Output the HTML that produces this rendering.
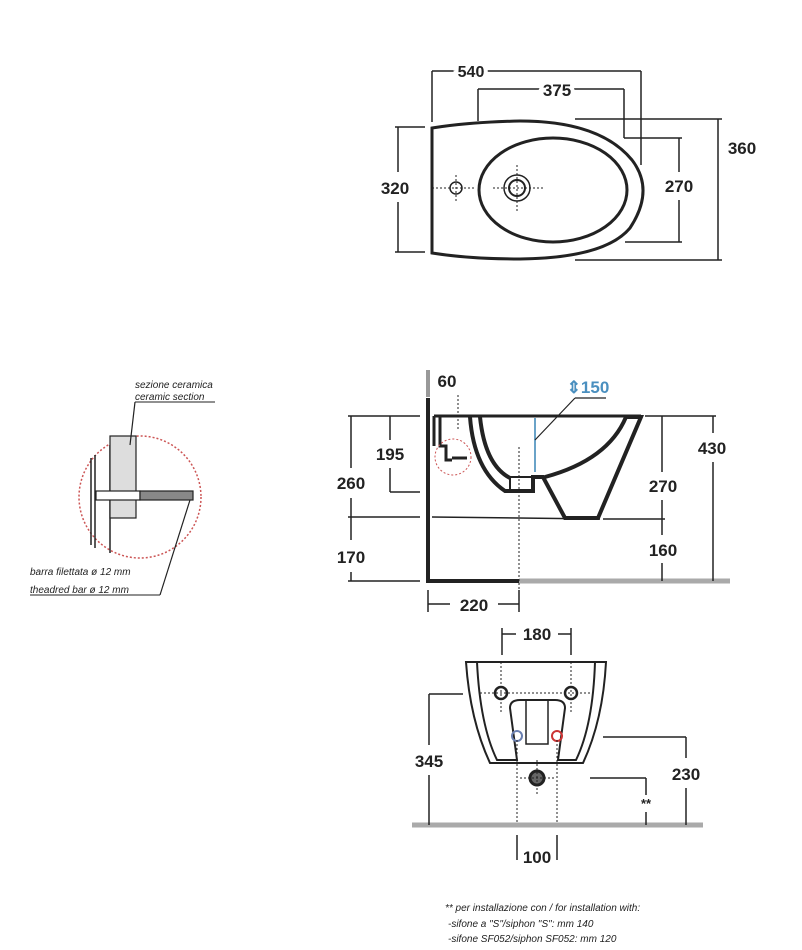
<!DOCTYPE html>
<html><head><meta charset="utf-8"><style>
html,body{margin:0;padding:0;background:#fff;}
svg{display:block;}
text{font-family:"Liberation Sans",sans-serif;}
.d{font-size:17px;font-weight:bold;fill:#222;}
.n{font-size:10px;font-style:italic;fill:#222;}
</style></head><body>
<svg width="802" height="950" viewBox="0 0 802 950" xmlns="http://www.w3.org/2000/svg">
<g fill="none" stroke="#222">
<!-- TOP VIEW -->
<path d="M432,128 Q470,122 520,121 Q600,121 632,160 Q655,190 630,228 Q605,258 520,259 Q470,259 432,253 Z" stroke-width="3"/>
<ellipse cx="553" cy="190" rx="74" ry="52" stroke-width="3"/>
<circle cx="517" cy="188" r="13" stroke-width="1.5"/>
<circle cx="517" cy="188" r="8" stroke-width="2"/>
<circle cx="456" cy="188" r="6" stroke-width="1.5"/>
<g stroke-dasharray="2,2" stroke-width="1">
<line x1="432" y1="188" x2="475" y2="188"/><line x1="493" y1="188" x2="545" y2="188"/>
<line x1="517" y1="165" x2="517" y2="212"/><line x1="456" y1="175" x2="456" y2="202"/>
</g>
<g stroke-width="1.5">
<line x1="432" y1="71" x2="641" y2="71"/><line x1="432" y1="71" x2="432" y2="122"/><line x1="641" y1="71" x2="641" y2="165"/>
<line x1="478" y1="89" x2="624" y2="89"/><line x1="478" y1="89" x2="478" y2="121"/><line x1="624" y1="89" x2="624" y2="138"/>
<line x1="624" y1="138" x2="682" y2="138"/><line x1="625" y1="242" x2="682" y2="242"/>
<line x1="679" y1="138" x2="679" y2="172"/><line x1="679" y1="200" x2="679" y2="242"/>
<line x1="575" y1="119" x2="722" y2="119"/><line x1="575" y1="260" x2="722" y2="260"/>
<line x1="718" y1="119" x2="718" y2="260"/>
<line x1="395" y1="127" x2="425" y2="127"/><line x1="395" y1="252" x2="425" y2="252"/>
<line x1="398" y1="127" x2="398" y2="172"/><line x1="398" y1="202" x2="398" y2="252"/>
</g>
<!-- SIDE VIEW -->
<line x1="428" y1="370" x2="428" y2="397" stroke="#999" stroke-width="4"/>
<path d="M428,398 L428,581 L519,581" stroke-width="4"/>
<line x1="519" y1="581" x2="730" y2="581" stroke="#aaa" stroke-width="5"/>
<line x1="434" y1="416" x2="641" y2="416" stroke-width="3"/>
<line x1="432" y1="517" x2="600" y2="519" stroke-width="1.5"/>
<path d="M470,417 Q474,470 505,491 L533,491 L533,477 L543,477 L565,518 L598,518 L641,417 L626,417 Q608,460 545,477" stroke-width="4"/>
<path d="M480,417 Q485,465 510,478" stroke-width="4"/>
<rect x="510" y="477" width="22" height="15" stroke-width="2"/>
<path d="M434,416 L434,446 M440,416 L440,446 L446,446 L446,460 L452,460" stroke-width="3"/>
<line x1="452" y1="458" x2="467" y2="458" stroke-width="3"/>
<circle cx="453" cy="457" r="18" stroke="#c55" stroke-dasharray="2,2" stroke-width="1"/>
<g stroke-dasharray="2,2" stroke-width="1">
<line x1="519" y1="447" x2="519" y2="612"/><line x1="458" y1="395" x2="458" y2="430"/>
</g>
<line x1="535" y1="418" x2="535" y2="472" stroke="#6aa3c8" stroke-width="2"/>
<line x1="575" y1="398" x2="535" y2="440" stroke-width="1.2"/>
<line x1="575" y1="398" x2="606" y2="398" stroke-width="1.2"/>
<g stroke-width="1.5">
<line x1="348" y1="416" x2="420" y2="416"/><line x1="348" y1="517" x2="420" y2="517"/><line x1="348" y1="581" x2="420" y2="581"/>
<line x1="351" y1="416" x2="351" y2="468"/><line x1="351" y1="498" x2="351" y2="540"/><line x1="351" y1="572" x2="351" y2="581"/>
<line x1="390" y1="416" x2="390" y2="440"/><line x1="390" y1="468" x2="390" y2="492"/><line x1="390" y1="492" x2="420" y2="492"/>
<line x1="645" y1="416" x2="716" y2="416"/>
<line x1="713" y1="416" x2="713" y2="433"/><line x1="713" y1="462" x2="713" y2="581"/>
<line x1="662" y1="416" x2="662" y2="472"/><line x1="662" y1="500" x2="662" y2="535"/><line x1="662" y1="563" x2="662" y2="581"/>
<line x1="603" y1="519" x2="665" y2="519"/>
<line x1="428" y1="590" x2="428" y2="612"/><line x1="519" y1="590" x2="519" y2="612"/>
<line x1="428" y1="604" x2="450" y2="604"/><line x1="498" y1="604" x2="519" y2="604"/>
</g>
<!-- FRONT VIEW -->
<path d="M466,662 L606,662 Q603,720 583,763 L490,763 Q470,720 466,662 Z" stroke-width="2"/>
<path d="M477,662 Q480,725 497,760 L517,760 L510,708 Q510,700 520,700 L555,700 Q565,700 565,708 L558,760 L576,760 Q593,725 595,662" stroke-width="2"/>
<rect x="526" y="700" width="22" height="44" stroke-width="1.5"/>
<circle cx="501" cy="693" r="6" stroke-width="2.5"/><circle cx="571" cy="693" r="6" stroke-width="2.5"/>
<circle cx="517" cy="736" r="5" stroke="#6a7fb0" stroke-width="2"/><circle cx="557" cy="736" r="5" stroke="#c33" stroke-width="2"/>
<circle cx="537" cy="778" r="7" stroke-width="3" fill="#666"/>
<g stroke-dasharray="2,2" stroke-width="1">
<line x1="501" y1="662" x2="501" y2="712"/><line x1="571" y1="662" x2="571" y2="712"/>
<line x1="480" y1="693" x2="590" y2="693"/>
<line x1="517" y1="740" x2="517" y2="825"/><line x1="557" y1="740" x2="557" y2="825"/>
<line x1="537" y1="760" x2="537" y2="795"/><line x1="520" y1="778" x2="555" y2="778"/>
</g>
<line x1="412" y1="825" x2="703" y2="825" stroke="#aaa" stroke-width="5"/>
<g stroke-width="1.5">
<line x1="502" y1="628" x2="502" y2="655"/><line x1="571" y1="628" x2="571" y2="655"/>
<line x1="502" y1="634" x2="516" y2="634"/><line x1="558" y1="634" x2="571" y2="634"/>
<line x1="429" y1="694" x2="463" y2="694"/><line x1="429" y1="694" x2="429" y2="745"/><line x1="429" y1="775" x2="429" y2="825"/>
<line x1="603" y1="737" x2="686" y2="737"/><line x1="686" y1="737" x2="686" y2="758"/><line x1="686" y1="788" x2="686" y2="825"/>
<line x1="590" y1="778" x2="646" y2="778"/><line x1="646" y1="778" x2="646" y2="795"/><line x1="646" y1="812" x2="646" y2="825"/>
<line x1="517" y1="835" x2="517" y2="860"/><line x1="557" y1="835" x2="557" y2="860"/>
</g>
<!-- DETAIL -->
<circle cx="140" cy="497" r="61" stroke="#c55" stroke-dasharray="2,2" stroke-width="1.5"/>
<line x1="91" y1="458" x2="91" y2="545" stroke-width="1.5"/><line x1="95" y1="455" x2="95" y2="548" stroke-width="1.5"/>
<line x1="110" y1="445" x2="110" y2="553" stroke-width="1.5"/>
<rect x="110" y="436" width="26" height="82" fill="#ddd" stroke-width="1.2"/>
<rect x="96" y="491" width="44" height="9" fill="#fff" stroke-width="1.2"/>
<rect x="140" y="491" width="53" height="9" fill="#888" stroke-width="1.2"/>
<line x1="135" y1="402" x2="130" y2="445" stroke-width="1.2"/><line x1="135" y1="402" x2="215" y2="402" stroke-width="1"/>
<line x1="190" y1="500" x2="160" y2="595" stroke-width="1.2"/><line x1="30" y1="595" x2="160" y2="595" stroke-width="1"/>
</g>
<g class="d">
<text x="471" y="77" font-size="16" text-anchor="middle" style="paint-order:stroke" stroke="#fff" stroke-width="8">540</text>
<text x="557" y="96" text-anchor="middle" style="paint-order:stroke" stroke="#fff" stroke-width="8">375</text>
<text x="742" y="154" text-anchor="middle">360</text>
<text x="679" y="192" text-anchor="middle">270</text>
<text x="395" y="194" text-anchor="middle">320</text>
<text x="447" y="387" text-anchor="middle">60</text>
<text x="390" y="460" text-anchor="middle">195</text>
<text x="351" y="489" text-anchor="middle">260</text>
<text x="351" y="563" text-anchor="middle">170</text>
<text x="712" y="454" text-anchor="middle">430</text>
<text x="663" y="492" text-anchor="middle">270</text>
<text x="663" y="556" text-anchor="middle">160</text>
<text x="474" y="611" text-anchor="middle">220</text>
<text x="588" y="393" text-anchor="middle" fill="#4a8fbf">⇕150</text>
<text x="537" y="640" text-anchor="middle">180</text>
<text x="429" y="767" text-anchor="middle">345</text>
<text x="686" y="780" text-anchor="middle">230</text>
<text x="646" y="808" text-anchor="middle" font-size="13">**</text>
<text x="537" y="863" text-anchor="middle">100</text>
</g>
<g class="n">
<text x="135" y="388">sezione ceramica</text>
<text x="135" y="400">ceramic section</text>
<text x="30" y="575">barra filettata ø 12 mm</text>
<text x="30" y="593">theadred bar ø 12 mm</text>
<text x="445" y="911">** per installazione con / for installation with:</text>
<text x="448" y="927">-sifone a "S"/siphon "S":    mm 140</text>
<text x="448" y="942">-sifone SF052/siphon SF052:   mm 120</text>
</g>
</svg>
</body></html>
